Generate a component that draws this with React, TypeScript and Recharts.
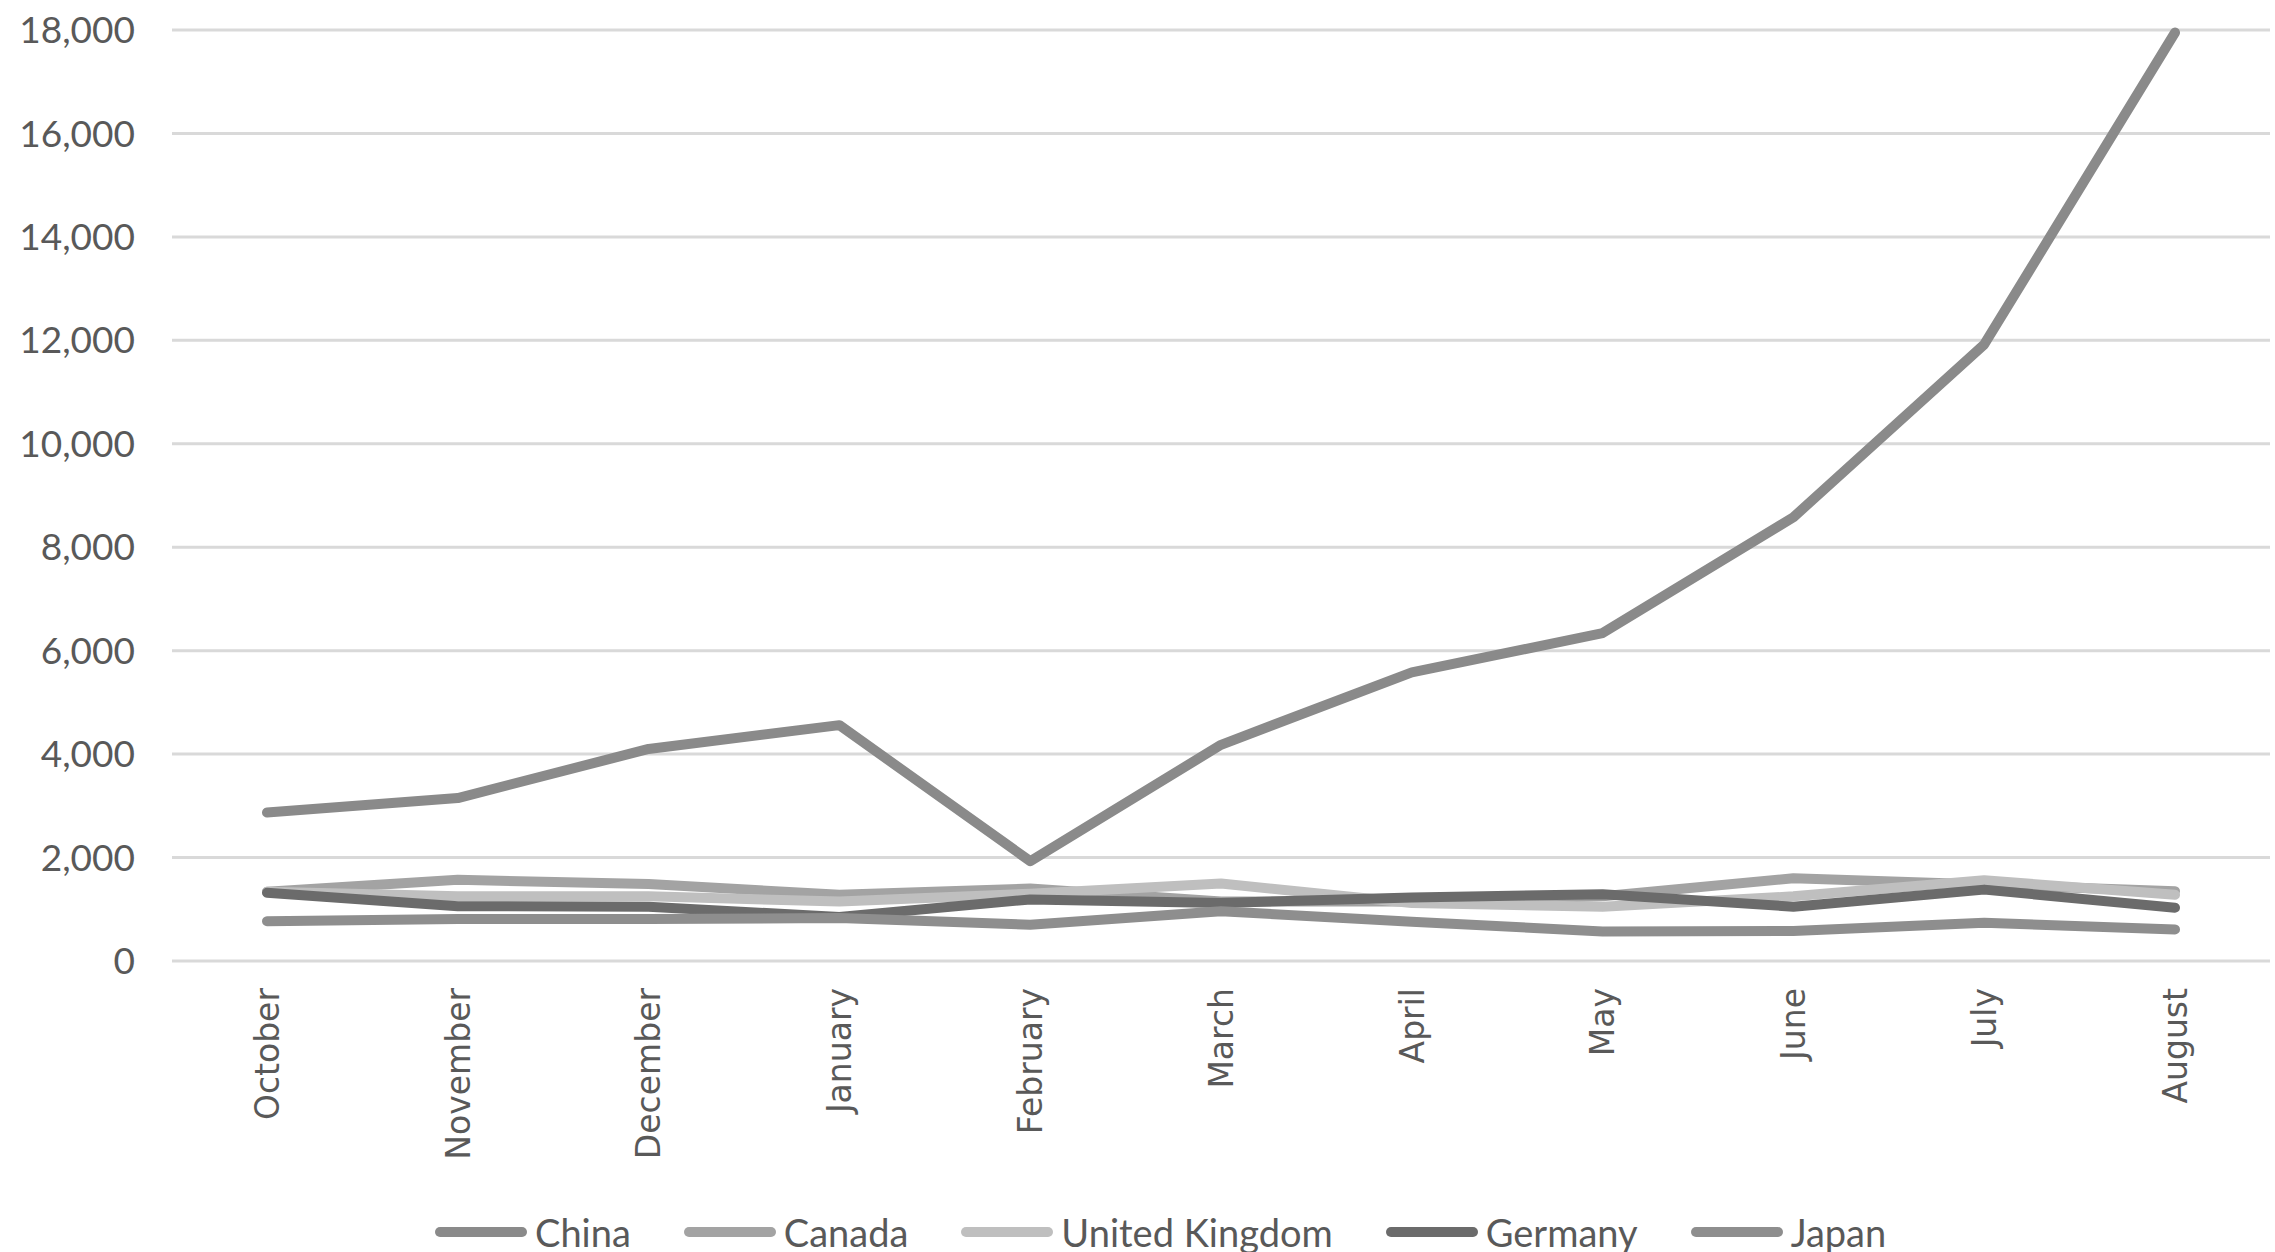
import React from "react";
import { LineChart, Line, XAxis, YAxis, CartesianGrid, Legend } from "recharts";

const months = ["October", "November", "December", "January", "February", "March", "April", "May", "June", "July", "August"];
const china = [2870, 3150, 4100, 4560, 1930, 4180, 5580, 6340, 8580, 11920, 17950];
const canada = [1340, 1570, 1490, 1280, 1400, 1150, 1150, 1250, 1600, 1480, 1350];
const uk = [1340, 1250, 1250, 1150, 1300, 1500, 1120, 1050, 1250, 1560, 1280];
const germany = [1320, 1060, 1050, 850, 1190, 1120, 1230, 1290, 1050, 1380, 1030];
const japan = [770, 810, 810, 830, 700, 960, 760, 570, 580, 740, 610];
const yTicks = [0, 2000, 4000, 6000, 8000, 10000, 12000, 14000, 16000, 18000];

const seriesDefs = [
  { key: "China", values: china, color: "#8a8a8a" },
  { key: "Canada", values: canada, color: "#a3a3a3" },
  { key: "United Kingdom", values: uk, color: "#bfbfbf" },
  { key: "Germany", values: germany, color: "#6b6b6b" },
  { key: "Japan", values: japan, color: "#8e8e8e" },
];

const data = months.map((m, i) => {
  const row: Record<string, string | number> = { month: m };
  seriesDefs.forEach((s) => {
    row[s.key] = s.values[i];
  });
  return row;
});

const XTick = (props: any) => {
  const { x, y, payload } = props;
  return (
    <g transform={`translate(${x},${y})`}>
      <text
        transform="rotate(-90)"
        x={-27}
        y={0}
        dy="0.36em"
        textAnchor="end"
        fill="#595959"
        style={{ fontFamily: "'DejaVu Sans', Verdana, sans-serif", fontSize: 33 }}
      >
        {payload.value}
      </text>
    </g>
  );
};

const LegendContent = () => (
  <div style={{ display: "flex", alignItems: "center", height: 40, paddingLeft: 435 }}>
    {seriesDefs.map((s) => (
      <div key={s.key} style={{ display: "flex", alignItems: "center", marginRight: 53 }}>
        <div style={{ width: 92, height: 10, borderRadius: 5, background: s.color }} />
        <span style={{ marginLeft: 8, fontFamily: "Lato", fontSize: 38, color: "#595959", lineHeight: "40px" }}>
          {s.key}
        </span>
      </div>
    ))}
  </div>
);

export default function App() {
  return (
    <div style={{ position: "absolute", left: 0, top: 0, background: "#fff" }}>
      <LineChart width={2275} height={1252} data={data} margin={{ top: 30, right: 5, left: 0, bottom: 0 }}>
        <CartesianGrid vertical={false} stroke="#d9d9d9" strokeWidth={3} />
        <XAxis
          dataKey="month"
          axisLine={false}
          tickLine={false}
          tickSize={0}
          tickMargin={0}
          height={251}
          interval={0}
          padding={{ left: 95, right: 95 }}
          tick={<XTick />}
        />
        <YAxis
          domain={[0, 18000]}
          ticks={yTicks}
          width={172}
          axisLine={false}
          tickLine={false}
          tickSize={0}
          tickMargin={37}
          tickFormatter={(v: number) => v.toLocaleString("en-US")}
          tick={{ fill: "#595959", fontFamily: "Lato", fontSize: 37 }}
          interval={0}
        />
        <Legend verticalAlign="bottom" align="left" content={<LegendContent />} wrapperStyle={{ left: 0, width: 2275 }} />
        {seriesDefs.map((s) => (
          <Line
            key={s.key}
            type="linear"
            dataKey={s.key}
            stroke={s.color}
            strokeWidth={10}
            strokeLinecap="round"
            strokeLinejoin="round"
            dot={false}
            activeDot={false}
            isAnimationActive={false}
          />
        ))}
      </LineChart>
    </div>
  );
}
